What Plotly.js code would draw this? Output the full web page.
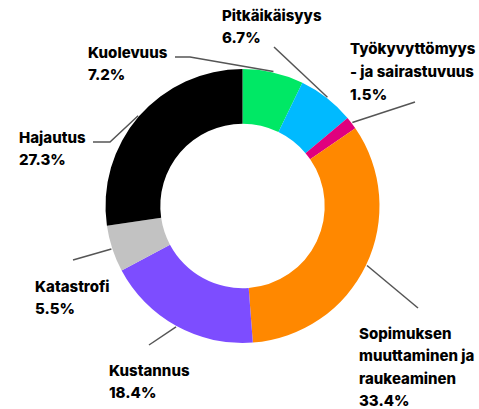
<!DOCTYPE html>
<html>
<head>
<meta charset="utf-8">
<script src="https://cdn.plot.ly/plotly-3.0.1.min.js"></script>
<style>html,body{margin:0;padding:0;background:#fff;}#chart{width:479px;height:409px;}</style>
</head>
<body>
<div id="chart"></div>
<script>
// ---- data ----
const categories = ["Kuolevuus", "Pitkäikäisyys", "Työkyvyttömyys - ja sairastuvuus", "Sopimuksen muuttaminen ja raukeaminen", "Kustannus", "Katastrofi", "Hajautus"];
const values = [7.2, 6.7, 1.5, 33.4, 18.4, 5.5, 27.3];
const labelLines = [
  ["Kuolevuus"],
  ["Pitkäikäisyys"],
  ["Työkyvyttömyys", "- ja sairastuvuus"],
  ["Sopimuksen", "muuttaminen ja", "raukeaminen"],
  ["Kustannus"],
  ["Katastrofi"],
  ["Hajautus"]
];
const colors = ["#00E865", "#00BAFF", "#E0007E", "#FF8800", "#7D4DFF", "#C2C2C2", "#000000"];

// ---- layout (pixel placement of labels) ----
const W = 479, H = 409;
const cx = 242.5, cy = 206, R = 137, rLead = 138;
const textPos = [
  {x: 86, y: 52}, {x: 220, y: 15}, {x: 348, y: 49}, {x: 357, y: 333},
  {x: 107, y: 370}, {x: 33, y: 286}, {x: 17, y: 137}
];
const leadEnds = [
  [[190, 57], [175, 57]],
  [[274, 47]],
  [[415, 102]],
  [[418, 308]],
  [[149, 345]],
  [[73, 260]],
  [[110, 142], [93, 142]]
];
const pitch = 22.5;

const px = x => x / W;
const py = y => 1 - y / H;

const total = values.reduce((a, b) => a + b, 0);
const annotations = [];
const shapes = [];
let cum = 0;
values.forEach((v, i) => {
  const mid = (cum + v / 2) / total * 2 * Math.PI;
  cum += v;
  const sx = cx + rLead * Math.sin(mid), sy = cy - rLead * Math.cos(mid);
  let path = `M ${px(sx)} ${py(sy)}`;
  leadEnds[i].forEach(p => { path += ` L ${px(p[0])} ${py(p[1])}`; });
  shapes.push({type: 'path', xref: 'paper', yref: 'paper', path: path,
    line: {color: '#555555', width: 1.5}});
  const lines = labelLines[i].concat([v.toFixed(1) + '%']);
  lines.forEach((t, k) => {
    annotations.push({
      text: t, xref: 'paper', yref: 'paper',
      x: px(textPos[i].x), y: py(textPos[i].y + k * pitch),
      xanchor: 'left', yanchor: 'middle', showarrow: false,
      font: {family: 'Inter, "Noto Sans", sans-serif', size: 15, weight: 800, color: '#000000'}
    });
  });
});

const trace = {
  type: 'pie',
  labels: categories,
  values: values,
  marker: {colors: colors, line: {color: '#ffffff', width: 0}},
  sort: false,
  direction: 'clockwise',
  rotation: 0,
  hole: 0.6,
  textinfo: 'none',
  showlegend: false,
  domain: {x: [(cx - R) / W, (cx + R) / W], y: [1 - (cy + R) / H, 1 - (cy - R) / H]}
};

const layout = {
  width: W, height: H,
  margin: {l: 0, r: 0, t: 0, b: 0},
  paper_bgcolor: '#ffffff',
  showlegend: false,
  annotations: annotations,
  shapes: shapes
};

Plotly.newPlot('chart', [trace], layout, {displayModeBar: false, staticPlot: true});
</script>
</body>
</html>
